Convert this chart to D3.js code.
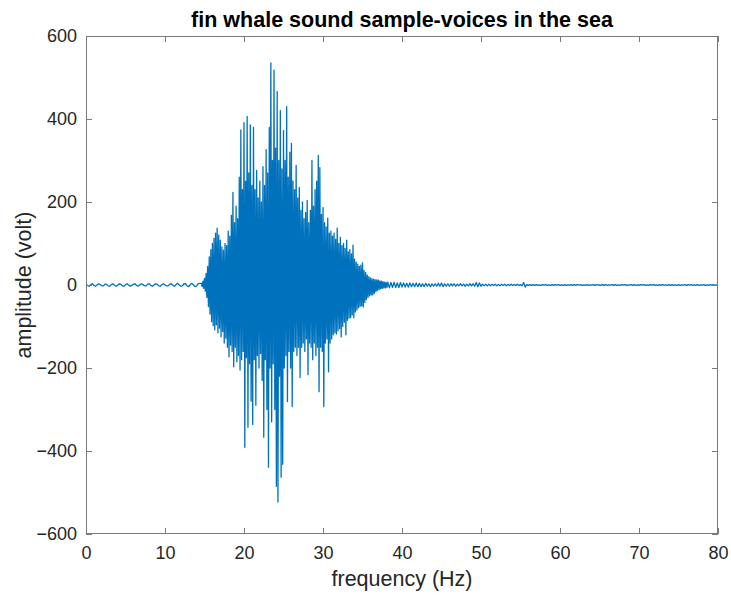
<!DOCTYPE html>
<html>
<head>
<meta charset="utf-8">
<script src="https://cdn.jsdelivr.net/npm/d3@7"></script>
<style>
  html, body { margin: 0; padding: 0; background: #ffffff; }
  svg { display: block; font-family: "Liberation Sans", Arial, Helvetica, sans-serif; }
</style>
</head>
<body>
<svg id="chart" width="731" height="600"></svg>
<script>
// ---------------- data ----------------
const chartTitle = "fin whale sound sample-voices in the sea";
const xLabel = "frequency (Hz)";
const yLabel = "amplitude (volt)";
const xTicks = [0, 10, 20, 30, 40, 50, 60, 70, 80];
const yTicks = [-600, -400, -200, 0, 200, 400, 600];

// quiet lead-in, samples every 0.2 Hz starting at 0
const quietStart = 0, quietStep = 0.2;
const quietAmp = [
  2,-1,-3,1,3,-1,-3,0,3,1,
  -2,-2,2,2,-2,-3,1,3,0,-3,
  -1,3,2,-2,-3,1,3,0,-3,-1,
  2,3,-1,-3,0,3,1,-2,-2,2,
  3,-1,-3,0,3,2,-2,-3,1,3,
  0,-2,-2,2,3,-1,-3,1,4,0,
  -3,-2,3,3,-2,-4,1,4,0,-4,
  -2,3,4
];

// burst: peak at start+0.2k, trough at start+0.2k+0.1
const burstStart = 14.6, burstStep = 0.2;
const burstPeaks = [
  4, 9, 16, 28, 45, 68, 85, 100, 112, 125,
  137, 120, 108, 92, 84, 100, 95, 130, 118, 168,
  223, 150, 190, 160, 260, 374, 230, 391, 250, 406,
  270, 386, 240, 380, 230, 276, 210, 250, 200, 285,
  240, 326, 270, 380, 535, 300, 518, 330, 466, 300,
  420, 280, 372, 300, 430, 260, 320, 341, 250, 230,
  288, 210, 235, 180, 200, 160, 175, 204, 150, 180,
  300, 190, 230, 250, 312, 283, 170, 187, 150, 140,
  161, 125, 130, 118, 125, 110, 137, 100, 115, 95,
  100, 88, 108, 80, 85, 75, 96, 62, 55, 50,
  45, 48, 53, 35, 30, 24, 20, 17, 15, 14,
  13, 12, 12, 10, 9, 8, 7, 6
];
const burstTroughs = [
  -4, -8, -15, -30, -52, -70, -88, -98, -108, -96,
  -115, -104, -125, -112, -140, -128, -150, -173, -145, -160,
  -197, -150, -185, -170, -205, -180, -160, -391, -175, -343,
  -190, -280, -336, -180, -290, -170, -200, -165, -230, -367,
  -180, -300, -439, -200, -330, -190, -300, -485, -523, -220,
  -463, -432, -200, -170, -281, -160, -200, -293, -160, -150,
  -170, -150, -223, -150, -140, -160, -130, -216, -140, -150,
  -180, -140, -170, -150, -257, -150, -160, -293, -140, -130,
  -209, -140, -130, -120, -115, -118, -110, -105, -125, -100,
  -90, -120, -85, -80, -78, -72, -79, -65, -60, -55,
  -52, -50, -53, -42, -35, -30, -26, -24, -24, -20,
  -16, -13, -11, -9, -8, -7, -7, -6
];

// decaying tail, samples every 0.2 Hz starting at 38.2
const tailStart = 38.2, tailStep = 0.2;
const tailAmp = [
  7,-7,6,-6,7,-6,5,-6,6,-5,
  5,-5,4,-5,5,-4,4,-4,5,-4,
  4,-4,3,-4,4,-3,3,-4,3,-3,
  3,-3,4,-3,5,-4,3,-3,3,-3,
  3,-2,3,-3,2,-2,3,-2,2,-3,
  2,-2,3,-2,3,-3,6,-4,5,-3,
  2,-2,2,-2,2,-2,2,-1,2,-2,
  1,-2,2,-1,2,-2,1,-1,2,-1,
  1,-1,2,-1,1,-2,6,-5,1,-1,
  1,-1,1,-1,1,-1,0.5,-1,1,-0.5,
  1,-1,0.5,-1,1,-1,1,-0.5,1,-1,
  0.5,-1,1,-1,0.5,-0.5,1,-1,1,-1,
  1,-0.5,1,-1,0.5,-1,1,-1,0.5,-0.5,
  1,-1,1,-0.5,0.5,-1,1,-1,1,-1,
  0.5,-0.5,1,-1,1,-1,0.5,-1,1,-0.5,
  1,-1,0.5,-0.5,1,-1,1,-1,0.5,-1,
  1,-0.5,1,-1,0.5,-1,1,-0.5,1,-1,
  0.5,-1,1,-1,1,-0.5,0.5,-1,1,-1,
  1,-1,0.5,-1,1,-1,0.5,-0.5,1,-1,
  1,-0.5,1,-1,0.5,-1,1,-1,0.5,-0.5,
  1,-1,0.5,-1,1,-0.5,1,-1,0.5,0
];

// ---------------- assemble samples ----------------
const samples = [];
quietAmp.forEach((v, i) => samples.push([quietStart + i * quietStep, v]));
burstPeaks.forEach((v, i) => {
  const x0 = burstStart + i * burstStep;
  samples.push([x0, v]);
  samples.push([x0 + burstStep / 2, burstTroughs[i]]);
});
tailAmp.forEach((v, i) => samples.push([tailStart + i * tailStep, v]));

// ---------------- layout ----------------
const svg = d3.select("#chart");
const mLeft = 86, mRight = 718, mTop = 36, mBottom = 534;
const x = d3.scaleLinear().domain([0, 80]).range([mLeft, mRight]);
const y = d3.scaleLinear().domain([-600, 600]).range([mBottom, mTop]);

const axisColor = "#7a7a7a";
const textColor = "#262626";
const tickLen = 6;

svg.append("rect").attr("width", 731).attr("height", 600).attr("fill", "#ffffff");

svg.append("defs").append("clipPath").attr("id", "plotclip")
  .append("rect").attr("x", mLeft).attr("y", mTop)
  .attr("width", mRight - mLeft).attr("height", mBottom - mTop);

// signal
const line = d3.line().x(d => x(d[0])).y(d => y(d[1]));
svg.append("path")
  .datum(samples)
  .attr("clip-path", "url(#plotclip)")
  .attr("fill", "none")
  .attr("stroke", "#0072BD")
  .attr("stroke-width", 1.3)
  .attr("stroke-linejoin", "round")
  .attr("d", line);

// axes (ticks inside, MATLAB-like)
function styleAxis(g) {
  g.select(".domain").remove();
  g.selectAll(".tick line").attr("stroke", axisColor);
  g.selectAll(".tick text")
    .attr("fill", textColor)
    .attr("font-size", 18)
    .attr("font-family", "'Liberation Sans', Arial, sans-serif");
}

svg.append("g")
  .attr("transform", `translate(0,${mBottom})`)
  .call(d3.axisBottom(x).tickValues(xTicks).tickSize(-tickLen).tickSizeOuter(0).tickPadding(12).tickFormat(d3.format("d")))
  .call(styleAxis);

svg.append("g")
  .attr("transform", `translate(${mLeft},0)`)
  .call(d3.axisLeft(y).tickValues(yTicks).tickSize(-tickLen).tickSizeOuter(0).tickPadding(9).tickFormat(d3.format("d")))
  .call(styleAxis);

svg.append("g")
  .attr("transform", `translate(0,${mTop})`)
  .call(d3.axisTop(x).tickValues(xTicks).tickSize(-tickLen).tickSizeOuter(0).tickFormat(""))
  .call(styleAxis);

svg.append("g")
  .attr("transform", `translate(${mRight},0)`)
  .call(d3.axisRight(y).tickValues(yTicks).tickSize(-tickLen).tickSizeOuter(0).tickFormat(""))
  .call(styleAxis);

// box
svg.append("rect")
  .attr("x", mLeft + 0.5).attr("y", mTop + 0.5)
  .attr("width", mRight - mLeft - 1).attr("height", mBottom - mTop - 1)
  .attr("fill", "none").attr("stroke", axisColor).attr("stroke-width", 1);

// title and labels
svg.append("text")
  .attr("x", (mLeft + mRight) / 2).attr("y", 27)
  .attr("text-anchor", "middle")
  .attr("font-size", 21.5).attr("font-weight", "bold")
  .attr("fill", "#000000")
  .text(chartTitle);

svg.append("text")
  .attr("x", (mLeft + mRight) / 2).attr("y", 586)
  .attr("text-anchor", "middle")
  .attr("font-size", 21.5)
  .attr("fill", textColor)
  .text(xLabel);

svg.append("text")
  .attr("transform", `translate(31,${(mTop + mBottom) / 2}) rotate(-90)`)
  .attr("text-anchor", "middle")
  .attr("font-size", 21.5)
  .attr("fill", textColor)
  .text(yLabel);
</script>
</body>
</html>
